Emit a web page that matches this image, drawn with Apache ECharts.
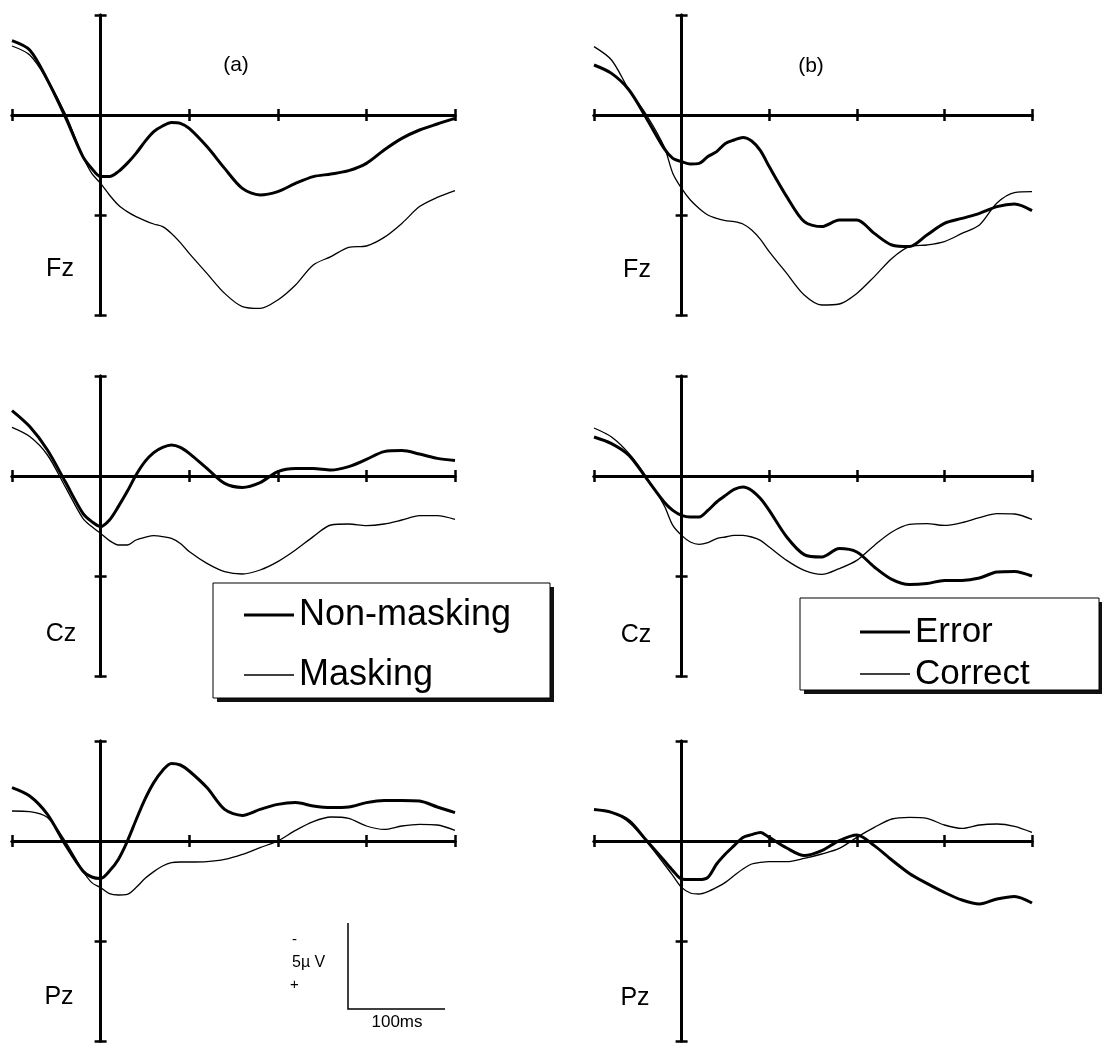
<!DOCTYPE html>
<html><head><meta charset="utf-8">
<script src="https://cdn.jsdelivr.net/npm/echarts@6/dist/echarts.min.js"></script>
<style>html,body{margin:0;padding:0;background:#fff}#c{width:1102px;height:1043px}</style>
</head><body><div id="c"></div>
<script>
// time (ms) relative to stimulus onset
const times = [-100,-80,-60,-40,-20,-10,0,10,20,30,40,50,60,70,80,90,100,120,140,160,180,200,220,240,260,280,300,320,340,360,380,400];
// amplitudes (µV scale units, negative up)
const fzNonMasking = [-3.72,-3.25,-1.75,0.08,2.08,2.67,3.08,3.08,2.83,2.42,1.92,1.33,0.83,0.55,0.38,0.42,0.67,1.58,2.67,3.67,4.0,3.83,3.42,3.08,2.95,2.78,2.42,1.75,1.17,0.75,0.45,0.17];
const fzMasking    = [-3.45,-3.0,-1.75,-0.08,2.08,2.92,3.42,4.0,4.5,4.83,5.08,5.28,5.45,5.58,5.92,6.38,6.92,7.92,8.92,9.58,9.67,9.25,8.5,7.5,7.08,6.62,6.55,6.12,5.42,4.58,4.12,3.78];
const fzError      = [-2.5,-2.08,-1.25,0.17,1.67,2.17,2.33,2.45,2.42,2.08,1.83,1.42,1.25,1.12,1.3,1.78,2.58,4.08,5.33,5.58,5.25,5.25,5.92,6.5,6.58,6.0,5.42,5.17,4.92,4.58,4.45,4.78];
const fzCorrect    = [-3.42,-2.75,-1.25,0,1.58,2.92,3.67,4.25,4.67,5.0,5.17,5.28,5.33,5.45,5.75,6.22,6.83,7.92,9.0,9.5,9.45,8.92,8.08,7.17,6.58,6.5,6.33,5.92,5.5,4.4,3.88,3.83];
const czNonMasking = [-3.27,-2.47,-1.3,0.28,1.87,2.28,2.53,2.2,1.53,0.78,-0.05,-0.72,-1.17,-1.43,-1.55,-1.43,-1.13,-0.38,0.37,0.57,0.33,-0.22,-0.38,-0.38,-0.3,-0.47,-0.83,-1.22,-1.27,-1.1,-0.88,-0.77];
const czMasking    = [-2.43,-1.97,-1.05,0.53,2.12,2.53,2.87,3.23,3.45,3.45,3.2,3.07,2.98,3.03,3.12,3.37,3.78,4.37,4.78,4.9,4.7,4.28,3.7,3.03,2.45,2.4,2.48,2.4,2.2,1.98,1.98,2.17];
const czError      = [-1.95,-1.62,-1.03,0.13,1.3,1.72,1.97,2.05,2.05,1.72,1.3,0.97,0.67,0.55,0.72,1.13,1.72,3.05,3.93,4.05,3.63,3.8,4.55,5.17,5.43,5.38,5.22,5.22,5.1,4.8,4.77,5.0];
const czCorrect    = [-2.4,-1.95,-1.12,0.05,1.47,2.47,2.97,3.3,3.42,3.33,3.13,3.05,2.97,2.97,3.05,3.22,3.55,4.22,4.72,4.92,4.63,4.22,3.47,2.8,2.42,2.38,2.47,2.33,2.08,1.88,1.9,2.17];
const pzNonMasking = [-2.67,-2.25,-1.33,0.17,1.5,1.8,1.87,1.5,0.92,0.03,-1.05,-2.08,-2.92,-3.53,-3.88,-3.8,-3.5,-2.67,-1.58,-1.28,-1.58,-1.83,-1.92,-1.75,-1.67,-1.7,-1.92,-2.03,-2.03,-2.0,-1.7,-1.42];
const pzMasking    = [-1.5,-1.47,-1.17,0,1.5,2.08,2.33,2.63,2.7,2.67,2.33,1.88,1.53,1.25,1.08,1.05,1.05,1.03,0.92,0.67,0.33,0,-0.53,-0.97,-1.2,-1.13,-0.75,-0.58,-0.75,-0.83,-0.8,-0.53];
const pzError      = [-1.57,-1.43,-1.02,-0.02,0.98,1.48,1.9,1.93,1.93,1.82,1.15,0.65,0.23,-0.18,-0.32,-0.43,-0.18,0.35,0.73,0.48,-0.02,-0.3,0.23,0.95,1.62,2.12,2.57,2.95,3.15,2.9,2.77,3.1];
const pzCorrect    = [-1.57,-1.43,-0.93,0.03,1.15,1.73,2.32,2.6,2.65,2.53,2.32,2.07,1.73,1.4,1.15,1.07,1.03,1.03,0.87,0.65,0.37,-0.18,-0.68,-1.1,-1.18,-1.13,-0.8,-0.63,-0.8,-0.85,-0.73,-0.43];

const xTicks = [-100, 400, 100];   // min, max, interval (ms)
const yTicks = [-5, 10, 5];        // min, max, interval (scale units)

const panels = [
  {left:12,  top:15,  width:443, thick:fzNonMasking, thin:fzMasking, names:['Non-masking','Masking']},
  {left:594, top:15,  width:438, thick:fzError,      thin:fzCorrect, names:['Error','Correct']},
  {left:12,  top:376, width:443, thick:czNonMasking, thin:czMasking, names:['Non-masking','Masking']},
  {left:594, top:376, width:438, thick:czError,      thin:czCorrect, names:['Error','Correct']},
  {left:12,  top:741, width:443, thick:pzNonMasking, thin:pzMasking, names:['Non-masking','Masking']},
  {left:594, top:741, width:438, thick:pzError,      thin:pzCorrect, names:['Error','Correct']}
];

const grid = [], xAxis = [], yAxis = [], series = [];
panels.forEach((p, g) => {
  grid.push({left:p.left, top:p.top, width:p.width, height:300});
  const axLine = {onZero:true, onZeroAxisIndex:2*g, lineStyle:{color:'#000', width:3}};
  const tick = {show:true, inside:false, length:6, lineStyle:{color:'#000', width:2.5}};
  ['bottom','top'].forEach(pos => xAxis.push({
    type:'value', gridIndex:g, position:pos, min:xTicks[0], max:xTicks[1], interval:xTicks[2],
    axisLine:axLine, axisTick:tick, axisLabel:{show:false}, splitLine:{show:false}
  }));
  ['left','right'].forEach(pos => yAxis.push({
    type:'value', gridIndex:g, position:pos, min:yTicks[0], max:yTicks[1], interval:yTicks[2], inverse:true,
    axisLine:axLine, axisTick:tick, axisLabel:{show:false}, splitLine:{show:false}
  }));
  series.push({
    type:'line', name:p.names[1], xAxisIndex:2*g, yAxisIndex:2*g,
    data: times.map((t,i)=>[t, p.thin[i]]), symbol:'none', showSymbol:false, smooth:0.3,
    lineStyle:{color:'#000', width:1.3}, itemStyle:{color:'#000'}, z:2
  });
  series.push({
    type:'line', name:p.names[0], xAxisIndex:2*g, yAxisIndex:2*g,
    data: times.map((t,i)=>[t, p.thick[i]]), symbol:'none', showSymbol:false, smooth:0.3,
    lineStyle:{color:'#000', width:3}, itemStyle:{color:'#000'}, z:3
  });
});

const font = 'Liberation Sans';
function txt(text, x, y, size, align) {
  return {type:'text', z:10, style:{text:text, x:x, y:y, fontSize:size, fontFamily:font, fill:'#000',
    textAlign:align || 'center', verticalAlign:'middle', textVerticalAlign:'middle'}};
}
const thickIcon = 'path://M0,0H50V3H0Z';
const thinIcon = 'path://M0,0H50V1.3H0Z';

const chart = echarts.init(document.getElementById('c'));
chart.setOption({
  animation:false,
  backgroundColor:'#fff',
  grid, xAxis, yAxis, series,
  legend:[
    {left:239, top:590, orient:'vertical', itemWidth:50, itemHeight:40, itemGap:20, selectedMode:false,
     data:[{name:'Non-masking', icon:thickIcon}, {name:'Masking', icon:thinIcon}],
     itemStyle:{color:'#000'},
     textStyle:{fontSize:36, fontFamily:font, color:'#000', lineHeight:40}, z:20},
    {left:855, top:608, orient:'vertical', itemWidth:50, itemHeight:38, itemGap:4, selectedMode:false,
     data:[{name:'Error', icon:thickIcon}, {name:'Correct', icon:thinIcon}],
     itemStyle:{color:'#000'},
     textStyle:{fontSize:35, fontFamily:font, color:'#000', lineHeight:38}, z:20}
  ],
  graphic:[
    {type:'rect', z:5, shape:{x:217, y:587, width:337, height:115}, style:{fill:'#111'}},
    {type:'rect', z:6, shape:{x:213, y:583, width:337, height:115}, style:{fill:'#fff', stroke:'#000', lineWidth:1}},
    {type:'rect', z:5, shape:{x:804, y:602, width:299, height:92}, style:{fill:'#111'}},
    {type:'rect', z:6, shape:{x:800, y:598, width:299, height:92}, style:{fill:'#fff', stroke:'#000', lineWidth:1}},
    txt('(a)', 236, 65, 21),
    txt('(b)', 811, 66, 21),
    txt('Fz', 60, 269, 25), txt('Fz', 637, 270, 25),
    txt('Cz', 61, 634, 25), txt('Cz', 636, 635, 25),
    txt('Pz', 59, 997, 25), txt('Pz', 635, 998, 25),
    {type:'polyline', z:10, shape:{points:[[348,923],[348,1009],[445,1009]]}, style:{stroke:'#000', lineWidth:1.5, fill:null}},
    txt('-', 292, 940, 15, 'left'),
    txt('5µ V', 292, 963, 16, 'left'),
    txt('+', 290, 985, 15, 'left'),
    txt('100ms', 397, 1022, 17)
  ]
});
</script>
</body></html>
